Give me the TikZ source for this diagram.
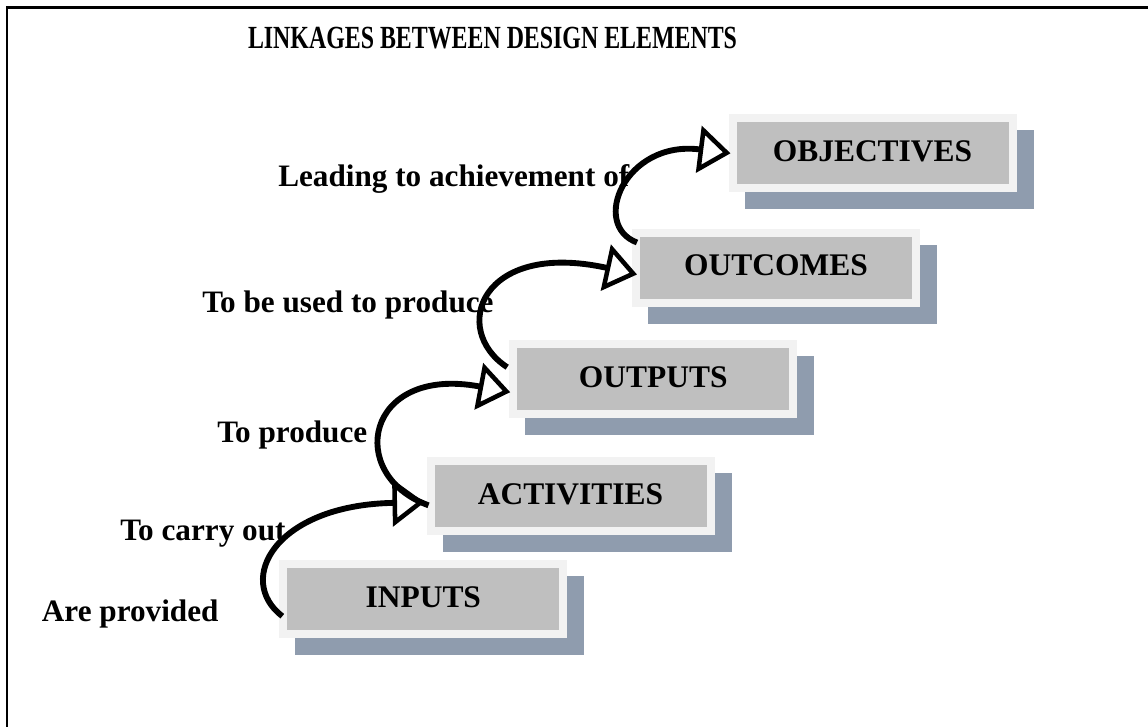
\documentclass[tikz,border=0pt]{standalone}
\usepackage{fontspec}
\setmainfont{Liberation Serif}
\usetikzlibrary{arrows.meta,calc,backgrounds}
\definecolor{boxlight}{HTML}{F2F2F2}
\definecolor{boxgray}{HTML}{BFBFBF}
\definecolor{boxshade}{HTML}{8F9CAE}
\begin{document}
\begin{tikzpicture}[x=0.75pt,y=-0.75pt,
  stage/.style={draw=boxlight, line width=6pt, fill=boxgray,
    minimum width=210pt, minimum height=52.5pt, inner sep=0pt,
    font=\bfseries\fontsize{23.6}{28}\selectfont,
    text height=15.6pt, text depth=3.8pt},
  caption/.style={anchor=base west, inner sep=0pt,
    font=\bfseries\fontsize{23.4}{28}\selectfont},
  heading/.style={anchor=base, inner sep=0pt,
    font=\bfseries\fontsize{24.2}{28}\selectfont},
  link/.style={line width=4.4pt,
    -{Triangle[open, length=24pt, width=35pt, line width=3.4pt]}},
  shade/.style={fill=boxshade}]
\useasboundingbox (0,0) rectangle (1148,726);
\clip (0,0) rectangle (1148,726);

% page frame, running off the right and bottom edges
\draw[line width=1.75pt] (7.2,7.5) rectangle (1170,760);

% title
\node[heading] (title) at (492.5,48.5) {\scalebox{0.74}[1]{LINKAGES BETWEEN DESIGN ELEMENTS}};

% stages of the chain
\node[stage] (inputs)     at (423.3,599.2) {INPUTS};
\node[stage] (activities) at (570.5,496.3) {ACTIVITIES};
\node[stage] (outputs)    at (653.2,379.2) {OUTPUTS};
\node[stage] (outcomes)   at (776.0,267.5) {OUTCOMES};
\node[stage] (objectives) at (872.5,153.3) {OBJECTIVES};

% drop shadows behind the stages
\begin{scope}[on background layer]
  \foreach \n in {inputs,activities,outputs,outcomes,objectives}
    \fill[shade] ($(\n.north west)+(16,16)$) rectangle ($(\n.south east)+(17,17)$);
\end{scope}

% captions of the links
\node[caption] (c1) at (41.7,621.7) {Are provided};
\node[caption] (c2) at (120,540)    {To carry out};
\node[caption] (c3) at (217,442)    {To produce};
\node[caption] (c4) at (202,312.7)  {To be used to produce};
\node[caption] (c5) at (278,186.7)  {Leading to achievement of};

% curved links from one stage to the next
\draw[link] ($(inputs.north west)+(3,56)$)
  .. controls (235,580) and (275,505) .. ($(activities.north west)+(-2,45)$);
\draw[link] ($(activities.north west)+(2,48)$)
  .. controls (345,475) and (365,365) .. ($(outputs.north west)+(1,52)$);
\draw[link] ($(outputs.north west)+(-2,27)$)
  .. controls (450,330) and (480,240) .. ($(outcomes.north west)+(5,46)$);
\draw[link] ($(outcomes.north west)+(5,14)$)
  .. controls (590,225) and (625,140) .. ($(objectives.north west)+(2,39)$);
\end{tikzpicture}
\end{document}
